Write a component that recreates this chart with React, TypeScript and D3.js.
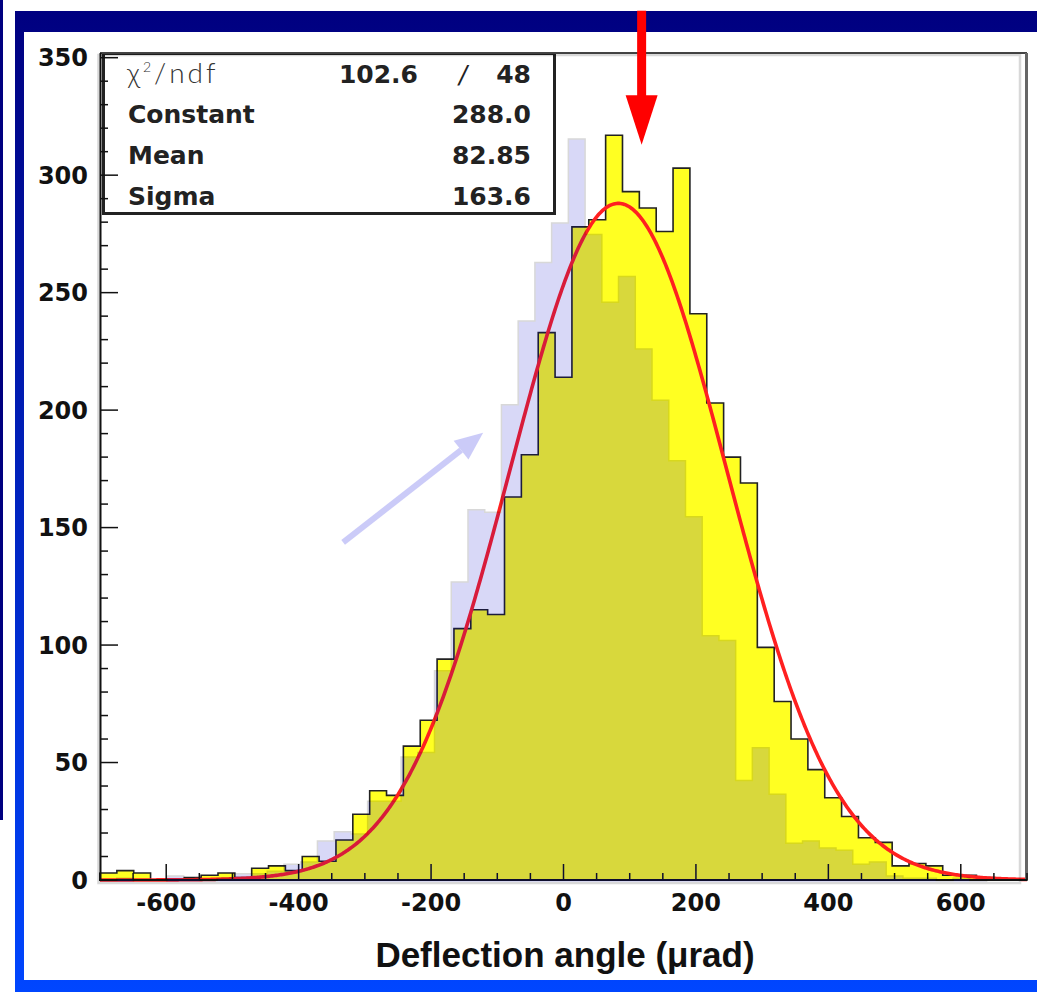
import React from 'react';
import * as d3 from 'd3';

// ---- data ----
const binRange: [number, number] = [-700, 700];
const nBins = 55;
// measured (yellow) histogram counts per bin
const dataCounts = [3, 4, 3, 0, 0, 1, 2, 3, 1, 5, 6, 4, 10, 8, 17, 28, 38, 36, 57, 68, 94, 107, 115, 113, 163, 181, 233, 214, 278, 281, 317, 293, 286, 276, 303, 241, 203, 180, 169, 99, 76, 60, 47, 35, 27, 18, 16, 6, 7, 6, 2, 2, 1, 0, 0];
// overlaid (lavender, semi transparent) histogram counts per bin
const overlayCounts = [1, 2, 0, 0, 3, 2, 1, 2, 4, 4, 5, 8, 9, 18, 22, 21, 35, 35, 54, 56, 91, 129, 160, 159, 205, 241, 266, 283, 319, 278, 249, 260, 229, 207, 181, 157, 106, 104, 44, 58, 38, 17, 18, 15, 14, 8, 9, 3, 2, 2, 1, 2, 1, 0, 0];
// gaussian fit parameters
const fitConstant = 288.0;
const fitMean = 82.85;
const fitSigma = 163.6;
const chi2 = 102.6;
const ndf = 48;
const statsLabels = ['Constant', 'Mean', 'Sigma'];
const statsValues = ['288.0', '82.85', '163.6'];
// axes
const xTickValues = [-600, -400, -200, 0, 200, 400, 600];
const yTickValues = [0, 50, 100, 150, 200, 250, 300, 350];
const yMax = 352;
const xTitle = 'Deflection angle (\u03bcrad)';
// annotations (data units)
const redArrow = { x: 118, yTop: 370, yHeadBase: 334, yTip: 313 };
const overlayArrow = { x1: -330, y1: 146, x2: -117, y2: 193 };

const W = 1037;
const H = 992;

function stepPath(counts: number[], xs: d3.ScaleLinear<number, number>, ys: d3.ScaleLinear<number, number>) {
  const w = (binRange[1] - binRange[0]) / nBins;
  let d = `M${xs(binRange[0])},${ys(0)}`;
  counts.forEach((c, i) => {
    const a = binRange[0] + i * w;
    const b = a + w;
    d += `L${xs(a)},${ys(c)}L${xs(b)},${ys(c)}`;
  });
  d += `L${xs(binRange[1])},${ys(0)}Z`;
  return d;
}

export default function App() {
  const x = d3.scaleLinear().domain(binRange).range([100, 1027]);
  const y = d3.scaleLinear().domain([0, yMax]).range([880, 53]);
  // overlay picture has slightly different placement
  const xo = d3.scaleLinear().domain(binRange).range([100, 1020]);
  const yo = d3.scaleLinear().domain([0, yMax]).range([883, 62]);

  const gauss = (v: number) => fitConstant * Math.exp(-0.5 * ((v - fitMean) / fitSigma) ** 2);
  const curvePts = d3.range(binRange[0], binRange[1] + 0.01, 2).map((v) => [v, gauss(v)] as [number, number]);
  const line = d3.line<[number, number]>().x((d) => x(d[0])).y((d) => y(d[1]));

  const xTicks = d3.range(-700, 701, 50);
  const yTicks = d3.range(0, yMax + 0.01, 10);

  // overlay arrow geometry
  const ax1 = xo(overlayArrow.x1), ay1 = yo(overlayArrow.y1);
  const ax2 = xo(overlayArrow.x2), ay2 = yo(overlayArrow.y2);
  const ang = Math.atan2(ay2 - ay1, ax2 - ax1);
  const headL = 28, headW = 12;
  const bx = ax2 - headL * Math.cos(ang), by = ay2 - headL * Math.sin(ang);
  const px = -Math.sin(ang), py = Math.cos(ang);

  const rx = x(redArrow.x);
  const font = '"DejaVu Sans", sans-serif';

  return (
    <svg width={W} height={H} style={{ position: 'absolute', left: 0, top: 0, background: '#fff' }}>
      <defs>
        <linearGradient id="bgGrad" x1="0" y1="0" x2="0" y2="1">
          <stop offset="0" stopColor="#000080" />
          <stop offset="1" stopColor="#0046ff" />
        </linearGradient>
      </defs>
      {/* slide background */}
      <rect x={0} y={0} width={W} height={H} fill="#fff" />
      <rect x={0} y={0} width={3} height={820} fill="#000080" />
      <rect x={15} y={11} width={W - 15} height={H - 11} fill="url(#bgGrad)" />
      <rect x={24} y={32} width={W - 24} height={948} fill="#fff" />

      {/* measured histogram */}
      <path d={stepPath(dataCounts, x, y)} fill="#ffff22" stroke="#222" strokeWidth={1.6} strokeLinejoin="miter" />

      {/* gaussian fit */}
      <path d={line(curvePts) || ''} fill="none" stroke="#ff2020" strokeWidth={3.6} />

      {/* stats box */}
      <rect x={103.5} y={53.5} width={451} height={160} fill="#fff" stroke="#222" strokeWidth={3} />
      <text x={127} y={83} fontFamily='Lato, "Open Sans", sans-serif' fontWeight={300} fontSize={28} fill="#333" letterSpacing={3}>
        {'\u03c7'}
        <tspan dy={-11} fontSize={14}>2</tspan>
        <tspan dy={11}>/ndf</tspan>
      </text>
      <text x={418} y={83} textAnchor="end" fontFamily={font} fontWeight="bold" fontSize={25} fill="#222">{chi2.toFixed(1)}</text>
      <text x={463} y={83} textAnchor="middle" fontFamily={font} fontStyle="italic" fontSize={24} fill="#222">/</text>
      <text x={531} y={83} textAnchor="end" fontFamily={font} fontWeight="bold" fontSize={25} fill="#222">{ndf}</text>
      {statsLabels.map((lab, i) => (
        <g key={lab}>
          <text x={128} y={123 + i * 41} fontFamily={font} fontWeight="bold" fontSize={25} fill="#222">{lab}</text>
          <text x={531} y={123 + i * 41} textAnchor="end" fontFamily={font} fontWeight="bold" fontSize={25} fill="#222">{statsValues[i]}</text>
        </g>
      ))}

      {/* frame */}
      <line x1={100} y1={53} x2={1027} y2={53} stroke="#444" strokeWidth={2} />
      <line x1={1026.5} y1={53} x2={1026.5} y2={881} stroke="#666" strokeWidth={3} />
      <line x1={99} y1={880} x2={1027} y2={880} stroke="#111" strokeWidth={2} />
      <line x1={100.5} y1={53} x2={100.5} y2={881} stroke="#111" strokeWidth={2} />

      {/* x ticks */}
      {xTicks.map((v) => {
        const major = v % 200 === 0;
        return <line key={'xt' + v} x1={x(v)} x2={x(v)} y1={880} y2={880 - (major ? 16 : 7)} stroke="#111" strokeWidth={1.5} />;
      })}
      {xTickValues.map((v) => (
        <text key={'xl' + v} x={x(v)} y={911} textAnchor="middle" fontFamily={font} fontWeight="bold" fontSize={24} fill="#111">{v}</text>
      ))}
      {/* y ticks */}
      {yTicks.map((v) => {
        const major = v % 50 === 0;
        return <line key={'yt' + v} x1={100} x2={100 + (major ? 18 : 8)} y1={y(v)} y2={y(v)} stroke="#111" strokeWidth={1.5} />;
      })}
      {yTickValues.map((v) => (
        <text key={'yl' + v} x={88} y={y(v) + 8.7} textAnchor="end" fontFamily={font} fontWeight="bold" fontSize={24} fill="#111">{v}</text>
      ))}
      <text x={565} y={967} textAnchor="middle" fontFamily='"Liberation Sans", Arial, sans-serif' fontWeight="bold" fontSize={35} fill="#111">{xTitle}</text>

      {/* semi-transparent overlaid picture */}
      <g opacity={0.15}>
        <path d={stepPath(overlayCounts, xo, yo)} fill="#0000d0" stroke="#000" strokeWidth={1.5} />
        <rect x={98.5} y={55} width={1020 - 98.5} height={883 - 55} fill="none" stroke="#000" strokeWidth={2.5} />
      </g>
      <g opacity={0.2}>
        <line x1={ax1} y1={ay1} x2={bx} y2={by} stroke="#0000e0" strokeWidth={6} />
        <polygon points={`${ax2},${ay2} ${bx + px * headW},${by + py * headW} ${bx - px * headW},${by - py * headW}`} fill="#0000e0" />
      </g>

      {/* red arrow */}
      <rect x={rx - 4.5} y={y(redArrow.yTop)} width={9} height={y(redArrow.yHeadBase) - y(redArrow.yTop) + 1} fill="#ff0000" />
      <polygon points={`${rx - 16},${y(redArrow.yHeadBase)} ${rx + 16},${y(redArrow.yHeadBase)} ${rx},${y(redArrow.yTip)}`} fill="#ff0000" />
    </svg>
  );
}
